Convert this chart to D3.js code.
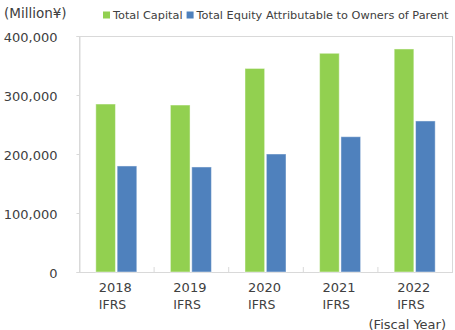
<!DOCTYPE html>
<html>
<head>
<meta charset="utf-8">
<script src="https://cdn.jsdelivr.net/npm/d3@7"></script>
<style>
  html, body { margin: 0; padding: 0; background: #fff; }
  svg { display: block; }
  text { font-family: "DejaVu Sans", sans-serif; fill: #404040; }
</style>
</head>
<body>
<svg id="chart" width="455" height="330"></svg>
<script>
const years = ["2018", "2019", "2020", "2021", "2022"];
const standards = ["IFRS", "IFRS", "IFRS", "IFRS", "IFRS"];
const totalCapital = [284700, 283000, 345000, 370700, 378000];
const totalEquity = [179700, 178000, 200000, 229300, 256000];
const seriesNames = ["Total Capital", "Total Equity Attributable to Owners of Parent"];
const seriesColors = ["#92D050", "#4F81BD"];
const yTicks = [0, 100000, 200000, 300000, 400000];
const unitLabel = "(Million¥)";
const xTitle = "(Fiscal Year)";

const svg = d3.select("#chart");
const m = { left: 79, right: 452, top: 36, bottom: 272 };

const x0 = d3.scaleBand().domain(years).range([m.left, m.right]).padding(0);
const x1 = d3.scaleBand().domain([0, 1]).range([0, 41]).paddingInner(0.08);
const y = d3.scaleLinear().domain([0, 400000]).range([m.bottom, m.top]);

// frame
svg.append("rect")
  .attr("x", m.left + 0.5).attr("y", m.top + 0.5)
  .attr("width", m.right - m.left).attr("height", m.bottom - m.top)
  .attr("fill", "none").attr("stroke", "#d9d9d9").attr("stroke-width", 1);

// category separator ticks
svg.append("g").selectAll("line")
  .data(years.slice(1))
  .join("line")
  .attr("x1", d => x0(d) + 0.5).attr("x2", d => x0(d) + 0.5)
  .attr("y1", m.bottom - 5).attr("y2", m.bottom)
  .attr("stroke", "#d9d9d9");

// y axis
const yAxis = svg.append("g")
  .attr("transform", `translate(${m.left + 0.5},0)`)
  .call(d3.axisLeft(y).tickValues(yTicks).tickSize(3).tickPadding(19).tickFormat(d3.format(",")));
yAxis.select(".domain").attr("stroke", "#d9d9d9");
yAxis.selectAll(".tick line").attr("stroke", "#d9d9d9");
yAxis.selectAll(".tick text")
  .attr("fill", "#404040")
  .style("font-family", '"DejaVu Sans", sans-serif')
  .style("font-size", "13px")
  .attr("dy", "0.42em");

// bars
const series = [totalCapital, totalEquity];
series.forEach((vals, si) => {
  svg.append("g").selectAll("rect")
    .data(years.map((yr, i) => ({ yr, v: vals[i] })))
    .join("rect")
    .attr("x", d => x0(d.yr) + x0.bandwidth() / 2 - 20.5 + x1(si))
    .attr("y", d => y(d.v))
    .attr("width", x1.bandwidth())
    .attr("height", d => y(0) - y(d.v))
    .attr("fill", seriesColors[si])
    .attr("stroke", "#ffffff")
    .attr("stroke-opacity", 0.45)
    .attr("stroke-width", 1);
});

// x labels
const xl = svg.append("g");
years.forEach((yr, i) => {
  const cx = x0(yr) + x0.bandwidth() / 2 - 1;
  const t = xl.append("text")
    .attr("x", cx).attr("y", 291.5)
    .attr("text-anchor", "middle")
    .style("font-size", "13px")
    .text(yr);
  const w = t.node().getComputedTextLength();
  xl.append("text")
    .attr("x", cx - w / 2).attr("y", 308.5)
    .attr("text-anchor", "start")
    .style("font-size", "12.5px")
    .text(standards[i]);
});

// x title
svg.append("text")
  .attr("x", 446).attr("y", 328.5)
  .attr("text-anchor", "end")
  .style("font-size", "13px")
  .text(xTitle);

// unit label
svg.append("text")
  .attr("x", 4).attr("y", 17.5)
  .style("font-size", "13.5px")
  .text(unitLabel);

// legend
const lg = svg.append("g");
let lx = 103;
seriesNames.forEach((name, i) => {
  lg.append("rect").attr("x", lx).attr("y", 11.5).attr("width", 7).attr("height", 7)
    .attr("fill", seriesColors[i]);
  const t = lg.append("text").attr("x", lx + 10).attr("y", 18.5)
    .style("font-size", "11.3px").text(name);
  const avail = i === 0 ? 72 : 452 - (lx + 10);
  if (t.node().getComputedTextLength() > avail) {
    t.attr("textLength", avail).attr("lengthAdjust", "spacingAndGlyphs");
  }
  lx += 10 + Math.min(t.node().getComputedTextLength(), avail) + 4;
});
</script>
</body>
</html>
